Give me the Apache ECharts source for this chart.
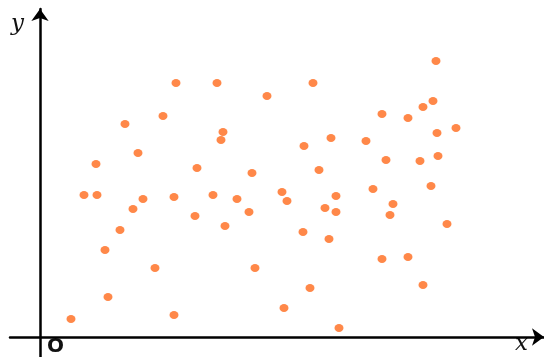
<!DOCTYPE html>
<html>
<head>
<meta charset="utf-8">
<script src="https://cdn.jsdelivr.net/npm/echarts@6/dist/echarts.min.js"></script>
<style>
html, body { margin: 0; padding: 0; background: #fff; }
#scatter_chart { width: 544px; height: 357px; }
</style>
</head>
<body>
<div id="scatter_chart"></div>
<script>
// point values (origin O at 0,0)
var xs = [31, 44, 57, 56, 65, 68, 80, 85, 93, 98, 103, 115, 123, 134, 136, 134,
    155, 157, 173, 177, 181, 183, 185, 197, 209, 212, 215, 227, 242, 244, 247,
    264, 263, 270, 273, 279, 285, 289, 291, 296, 296, 299, 326, 333, 342, 346,
    342, 350, 353, 368, 368, 380, 383, 383, 393, 391, 396, 397, 398, 407, 416];
var ys = [18, 142, 142, 173, 87, 40, 107, 213, 128, 184, 138, 69, 221, 140, 254, 22,
    121, 169, 142, 254, 197, 205, 111, 138, 125, 164, 69, 241, 145, 29, 136,
    191, 105, 49, 254, 167, 129, 98, 199, 141, 125, 9, 196, 148, 223, 177,
    78, 122, 133, 80, 219, 176, 230, 52, 236, 151, 276, 204, 181, 113, 209];
var xMin = -30, xMax = 504;
var yMin = -20, yMax = 328;

function getScatterChart() {
    var dom = document.getElementById('scatter_chart')
    var chart = echarts.init(dom)
    var points = xs.map(function (x, i) { return [x, ys[i]] })
    let option = {
        animation: false,
        grid: {
            left: 10,
            right: 0,
            top: 9,
            bottom: 0
        },
        xAxis: {
            type: 'value',
            min: xMin,
            max: xMax,
            axisLine: {
                onZero: true,
                symbol: ['none', 'arrow'],
                symbolSize: [13, 12],
                lineStyle: {color: '#000', width: 2.5}
            },
            axisTick: {show: false},
            axisLabel: {show: false},
            splitLine: {show: false}
        },
        yAxis: {
            type: 'value',
            min: yMin,
            max: yMax,
            axisLine: {
                onZero: true,
                symbol: ['none', 'arrow'],
                symbolSize: [13, 12],
                lineStyle: {color: '#000', width: 2.5}
            },
            axisTick: {show: false},
            axisLabel: {show: false},
            splitLine: {show: false}
        },
        graphic: [
            {type: 'text', left: 11, top: 13, style: {text: 'y', font: 'italic 23px "DejaVu Serif"', fill: '#111'}},
            {type: 'text', left: 515, top: 333, style: {text: 'x', font: 'italic 23px "DejaVu Serif"', fill: '#111'}},
            {type: 'text', left: 47, top: 337, style: {text: 'O', font: 'bold 20px "DejaVu Sans"', fill: '#111'}}
        ],
        series: [{
            type: 'scatter',
            data: points,
            symbol: 'circle',
            symbolSize: [9, 8],
            itemStyle: {color: '#ff6a1c'}
        }]
    };
    chart.setOption(option)
}
getScatterChart()
</script>
</body>
</html>
